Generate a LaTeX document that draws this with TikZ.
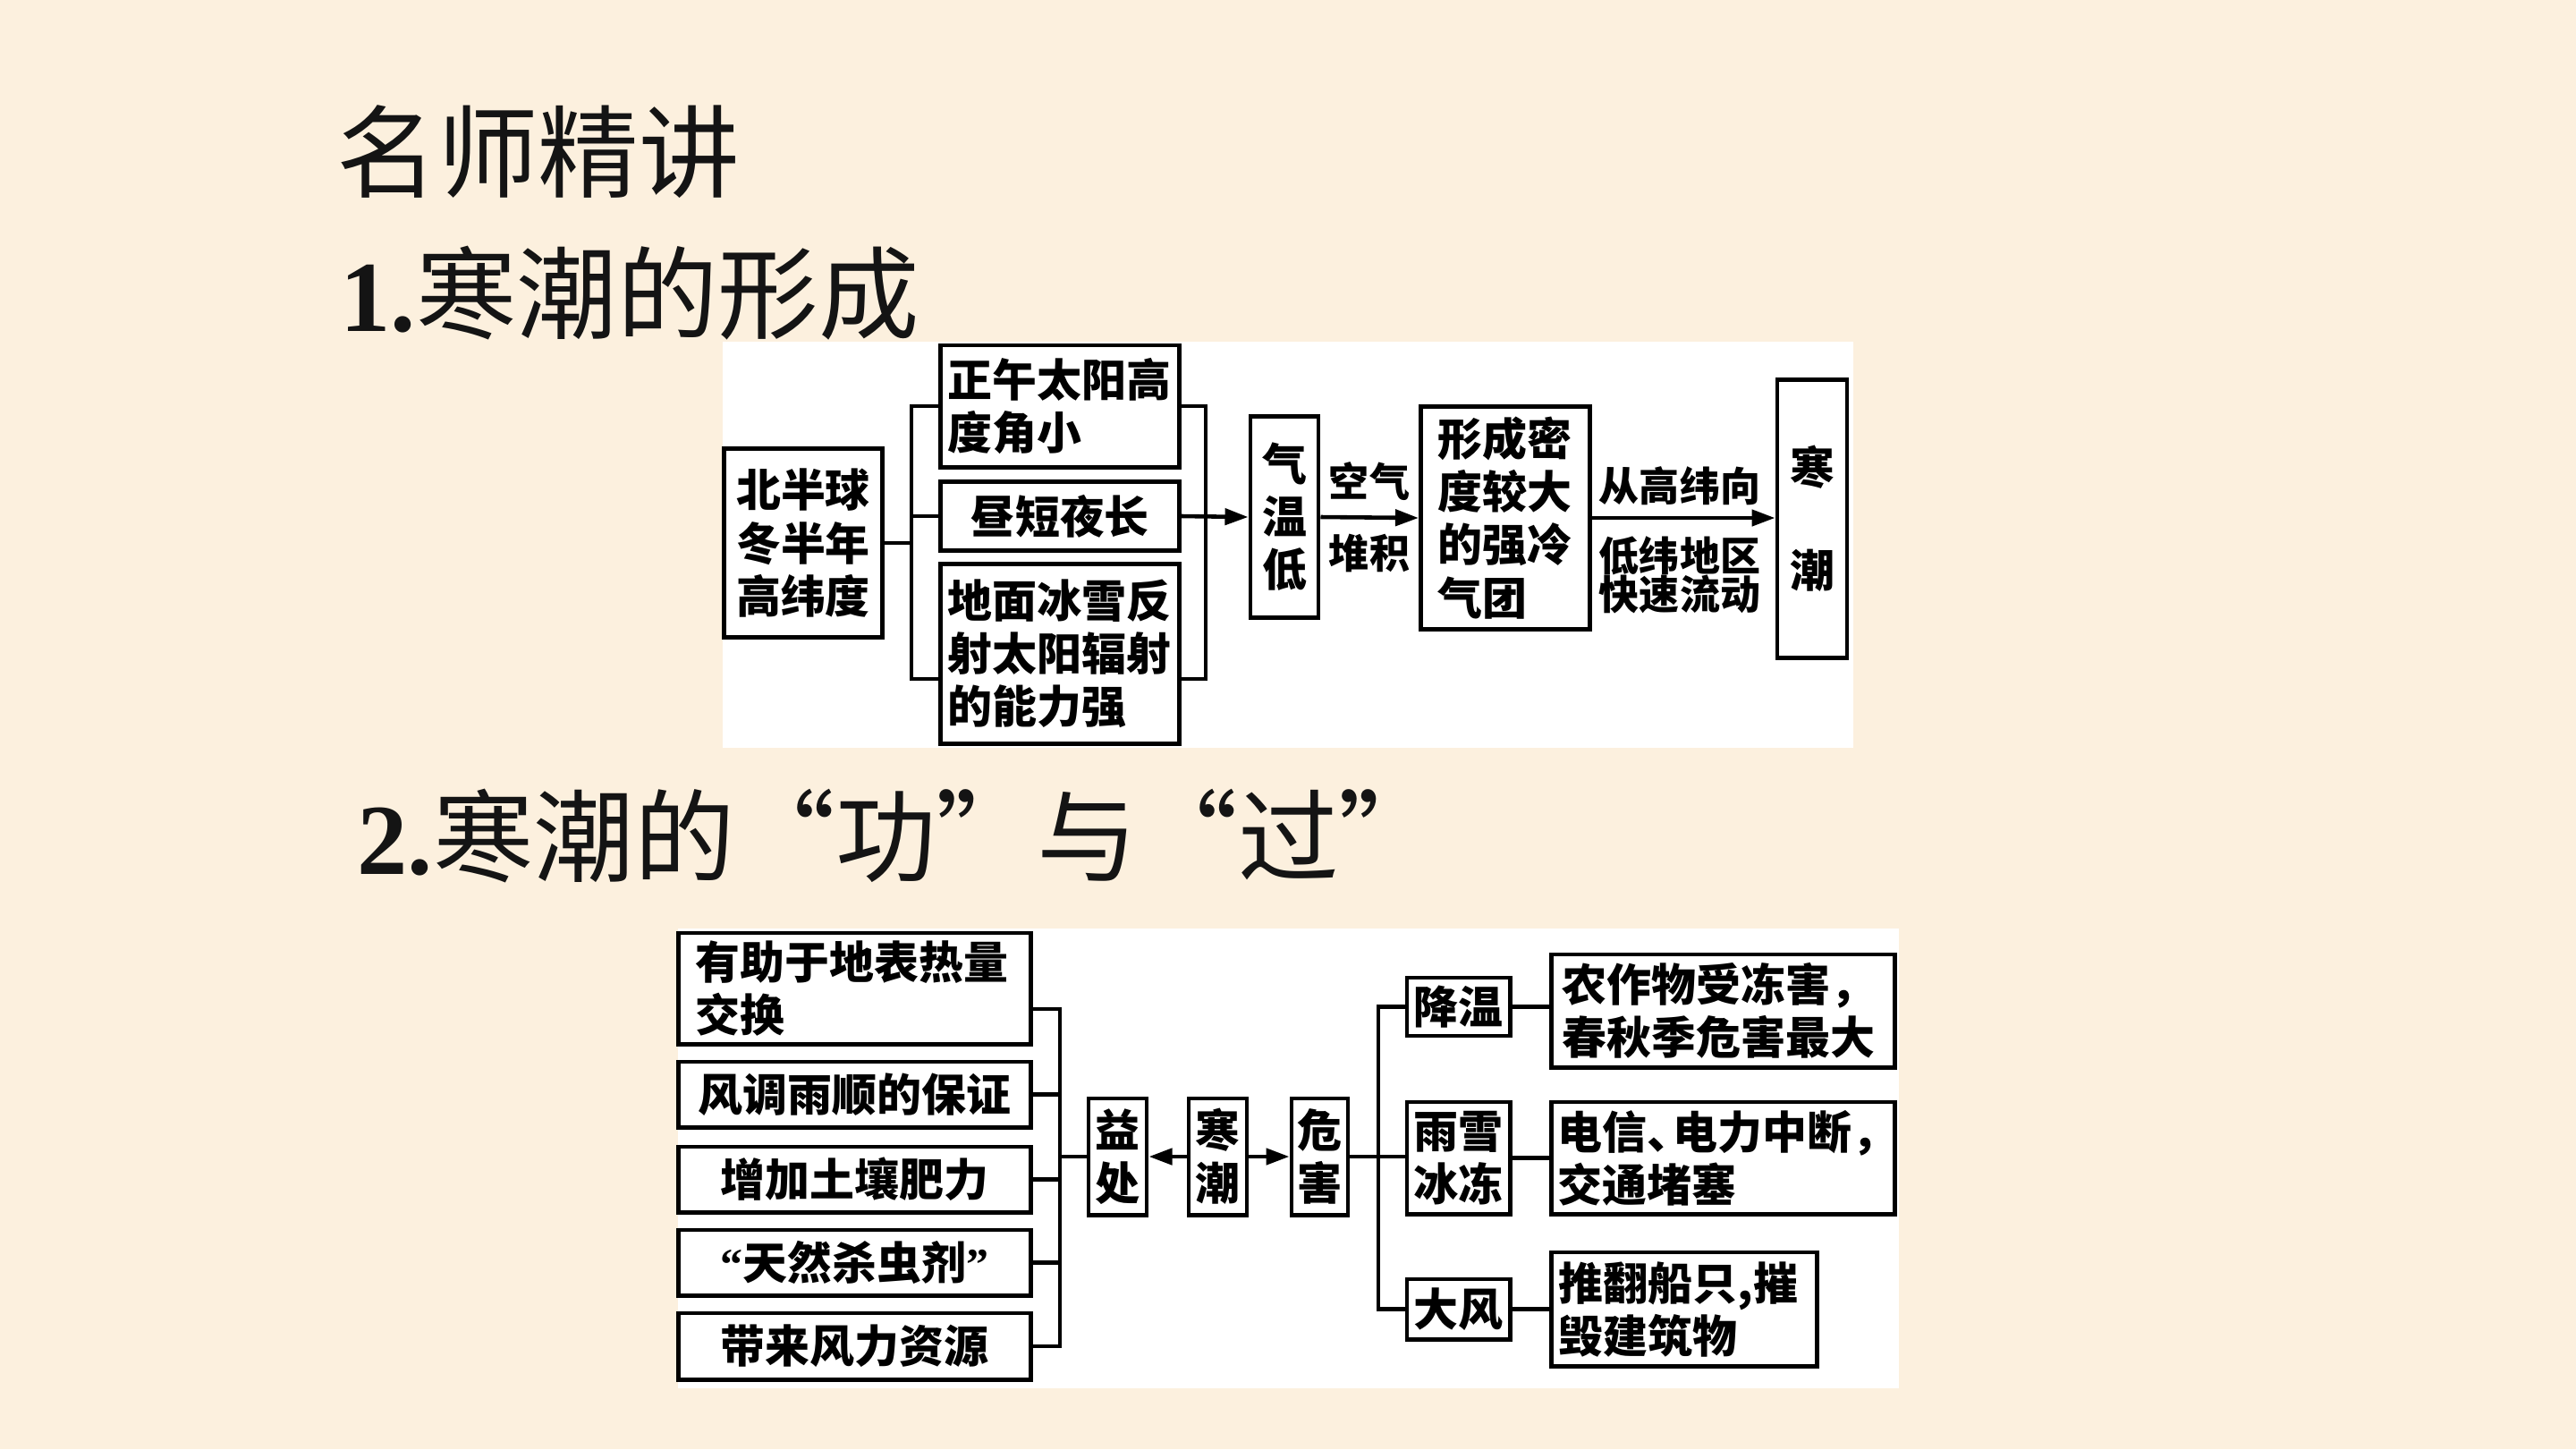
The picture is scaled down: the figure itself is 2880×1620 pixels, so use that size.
\documentclass[tikz,border=0pt]{standalone}
\usepackage{fontspec}
\setmainfont{Liberation Serif}
\newfontfamily\cjk{Noto Sans CJK SC}
\usetikzlibrary{arrows.meta, positioning}
\definecolor{slidebg}{HTML}{FCF0DE}
\definecolor{inkblack}{HTML}{141414}
\tikzset{
    flow/.style={font=\fontsize{14.2pt}{16.8pt}\selectfont\cjk\bfseries},
    flow box/.style={draw, line width=1.4pt, fill=white, inner sep=0pt, align=center},
    flow line/.style={line width=1.3pt},
    flow arrow/.style={-{Triangle[length=0.26cm, width=0.18cm]}, line width=1.3pt},
    flow label/.style={inner sep=0pt, align=center,
        font=\fontsize{12.8pt}{14.6pt}\selectfont\cjk\bfseries},
    slide title/.style={anchor=west, inner sep=0pt, text=inkblack,
        font=\fontsize{32pt}{38pt}\selectfont\mdseries},
}

\begin{document}
\begin{tikzpicture}[x=0.01cm, y=-0.01cm, flow]
    \fill[slidebg] (0,0) rectangle (2880,1620);
    \useasboundingbox (0,0) rectangle (2880,1620);

    % headings
    \node[slide title] (head) at (376,170) {\cjk 名师精讲};
    \node[slide title] (part1) at (380,328) {{\bfseries 1.}\cjk 寒潮的形成};
    \node[slide title] (part2) at (399,935) {{\bfseries 2.}\cjk 寒潮的“功”与“过”};

    % 1. formation
    \fill[white] (808,382) rectangle (2072,836);
    \node[flow box, minimum width=1.76cm, minimum height=2.10cm] (lat) at (898,607)
        {北半球\\冬半年\\高纬度};
    \node[flow box, text width=2.50cm, align=left, minimum width=2.67cm,
        minimum height=1.36cm] (noon) at (1185,454) {正午太阳高\\度角小};
    \node[flow box, minimum width=2.67cm, minimum height=0.77cm] (day) at (1185,577)
        {昼短夜长};
    \node[flow box, text width=2.50cm, align=left, minimum width=2.67cm,
        minimum height=2.0cm] (ice) at (1185,731) {地面冰雪反\\射太阳辐射\\的能力强};
    \node[flow box, minimum width=0.76cm, minimum height=2.24cm] (cold) at (1436,578)
        {气\\温\\低};
    \node[flow box, text width=1.50cm, align=left, minimum width=1.89cm,
        minimum height=2.48cm] (mass) at (1683,579) {形成密\\度较大\\的强冷\\气团};
    \node[flow box, minimum width=0.78cm, minimum height=3.10cm] (wave) at (2026,580)
        {寒\\[0.56cm]潮};

    \coordinate (jl) at (1019,607);
    \coordinate (jr) at (1348,577);
    \draw[flow line] (lat.east) -- (jl);
    \draw[flow line] (noon.west) -| (jl) |- ([yshift=-0.28cm]ice.west);
    \draw[flow line] (day.west) -- (day.west -| jl);
    \draw[flow line] (noon.east) -| (jr) |- ([yshift=-0.28cm]ice.east);
    \draw[flow arrow] (day.east) -- (cold.west);
    \draw[flow arrow] (cold.east) -- (mass.west);
    \draw[flow arrow] (mass.east) -- (wave.west |- mass.east);

    \node[flow label] (air) at (1531,538) {空气};
    \node[flow label] (pile) at (1531,618) {堆积};
    \node[flow label] (from) at (1878,543) {从高纬向};
    \node[flow label] (to) at (1878,643) {低纬地区\\[-0.08cm]快速流动};

    % 2. merits and harms
    \fill[white] (758,1038) rectangle (2123,1552);
    \node[flow box, text width=3.55cm, align=left, minimum width=3.93cm,
        minimum height=1.24cm] (heat) at (955.5,1105) {有助于地表热量\\交换};
    \node[flow box, minimum width=3.93cm, minimum height=0.73cm] (rain) at (955.5,1223.5)
        {风调雨顺的保证};
    \node[flow box, minimum width=3.93cm, minimum height=0.73cm] (soil) at (955.5,1318.5)
        {增加土壤肥力};
    \node[flow box, minimum width=3.93cm, minimum height=0.73cm] (pest) at (955.5,1411.5)
        {{\rmfamily\bfseries “}天然杀虫剂{\rmfamily\bfseries ”}};
    \node[flow box, minimum width=3.93cm, minimum height=0.74cm] (wind) at (955.5,1505)
        {带来风力资源};

    \node[flow box, minimum width=0.65cm, minimum height=1.30cm] (gain) at (1249.5,1293)
        {益\\处};
    \node[flow box, minimum width=0.65cm, minimum height=1.30cm] (cwave) at (1361.5,1293)
        {寒\\潮};
    \node[flow box, minimum width=0.63cm, minimum height=1.30cm] (harm) at (1475.5,1293)
        {危\\害};

    \node[flow box, minimum width=1.15cm, minimum height=0.65cm] (cool) at (1630.5,1125.5)
        {降温};
    \node[flow box, minimum width=1.15cm, minimum height=1.25cm] (freeze) at (1630.5,1294.5)
        {雨雪\\冰冻};
    \node[flow box, minimum width=1.15cm, minimum height=0.67cm] (gale) at (1630.5,1463.5)
        {大风};

    \node[flow box, text width=3.60cm, align=left, minimum width=3.83cm,
        minimum height=1.26cm] (crop) at (1926.5,1130) {农作物受冻害，\\春秋季危害最大};
    \node[flow box, text width=3.70cm, align=left, minimum width=3.83cm,
        minimum height=1.25cm] (power) at (1926.5,1294.5)
        {\mbox{电信、\kern-0.42em 电力中断，}\\交通堵塞};
    \node[flow box, text width=2.80cm, align=left, minimum width=2.96cm,
        minimum height=1.27cm] (ship) at (1883,1463.5) {推翻船只,摧\\毁建筑物};

    \coordinate (jb) at (1185,1293);
    \coordinate (jh) at (1541,1293);
    \draw[flow line] ([yshift=-0.23cm]heat.east) -| (jb) |- (wind.east);
    \foreach \n in {rain,soil,pest}
        \draw[flow line] (\n.east) -- (\n.east -| jb);
    \draw[flow line] (jb) -- (gain.west);
    \draw[flow arrow] (cwave) -- (gain);
    \draw[flow arrow] (cwave) -- (harm);
    \draw[flow line] (cool.west) -| (jh) |- (gale.west);
    \draw[flow line] (harm.east) -- (harm.east -| freeze.west);
    \draw[flow line] (cool.east) -- (cool.east -| crop.west);
    \draw[flow line] (freeze.east) -- (freeze.east -| power.west);
    \draw[flow line] (gale.east) -- (gale.east -| ship.west);
\end{tikzpicture}
\end{document}
